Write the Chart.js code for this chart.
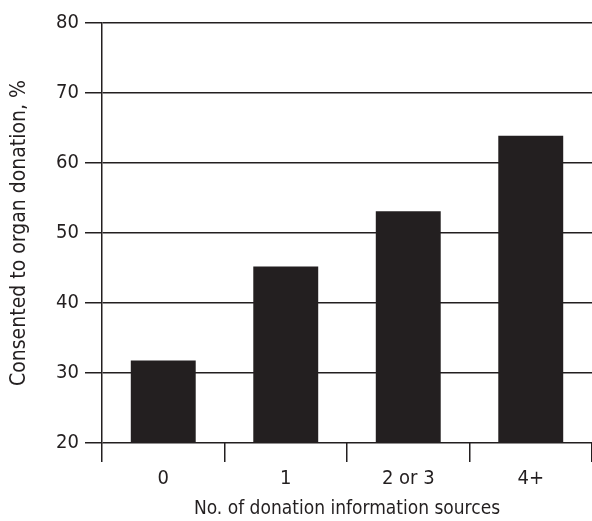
<!DOCTYPE html>
<html>
<head>
<meta charset="utf-8">
<script src="https://cdn.jsdelivr.net/npm/chart.js@4/dist/chart.umd.min.js"></script>
<style>
html,body{margin:0;padding:0;background:#fff;}
#c{display:block;}
</style>
</head>
<body>
<canvas id="c" width="592" height="521"></canvas>
<script>
const categories = ["0", "1", "2 or 3", "4+"];
const consentedPct = [31.8, 45.2, 53.1, 63.9];
const yTicks = [20, 30, 40, 50, 60, 70, 80];
const xTitle = "No. of donation information sources";
const yTitle = "Consented to organ donation, %";

const INK = "#231f20";
const FONT = "'Liberation Sans Narrow', 'DejaVu Sans Condensed', 'Roboto Condensed', sans-serif";

new Chart(document.getElementById("c"), {
  type: "bar",
  data: {
    labels: categories,
    datasets: [{
      data: consentedPct,
      backgroundColor: INK,
      borderWidth: 0,
      categoryPercentage: 1.0,
      barPercentage: 0.53
    }]
  },
  options: {
    responsive: false,
    animation: false,
    devicePixelRatio: 1,
    layout: { padding: { top: 23, right: 0, bottom: 0, left: 0 } },
    plugins: { legend: { display: false }, tooltip: { enabled: false } },
    scales: {
      x: {
        offset: true,
        grid: { offset: true, drawOnChartArea: false, drawTicks: true, tickLength: 19, color: INK, lineWidth: 1.5 },
        border: { display: false },
        ticks: { color: INK, font: { family: FONT, size: 20 }, padding: 5 },
        title: { display: true, text: xTitle, color: INK, font: { family: FONT, size: 19 }, padding: { top: 4, bottom: 1 } },
        afterFit: (s) => { s.height = 78; }
      },
      y: {
        min: yTicks[0],
        max: yTicks[yTicks.length - 1],
        afterBuildTicks: (s) => { s.ticks = yTicks.map(v => ({ value: v })); },
        grid: { color: INK, lineWidth: 1.5, tickLength: 17, drawTicks: true },
        border: { display: true, color: INK, width: 1.5 },
        ticks: { color: INK, font: { family: FONT, size: 20 }, padding: 6 },
        title: { display: true, text: yTitle, color: INK, font: { family: FONT, size: 21 }, padding: { top: 7, bottom: 0 } },
        afterFit: (s) => { s.width = 102; }
      }
    }
  }
});
</script>
</body>
</html>
